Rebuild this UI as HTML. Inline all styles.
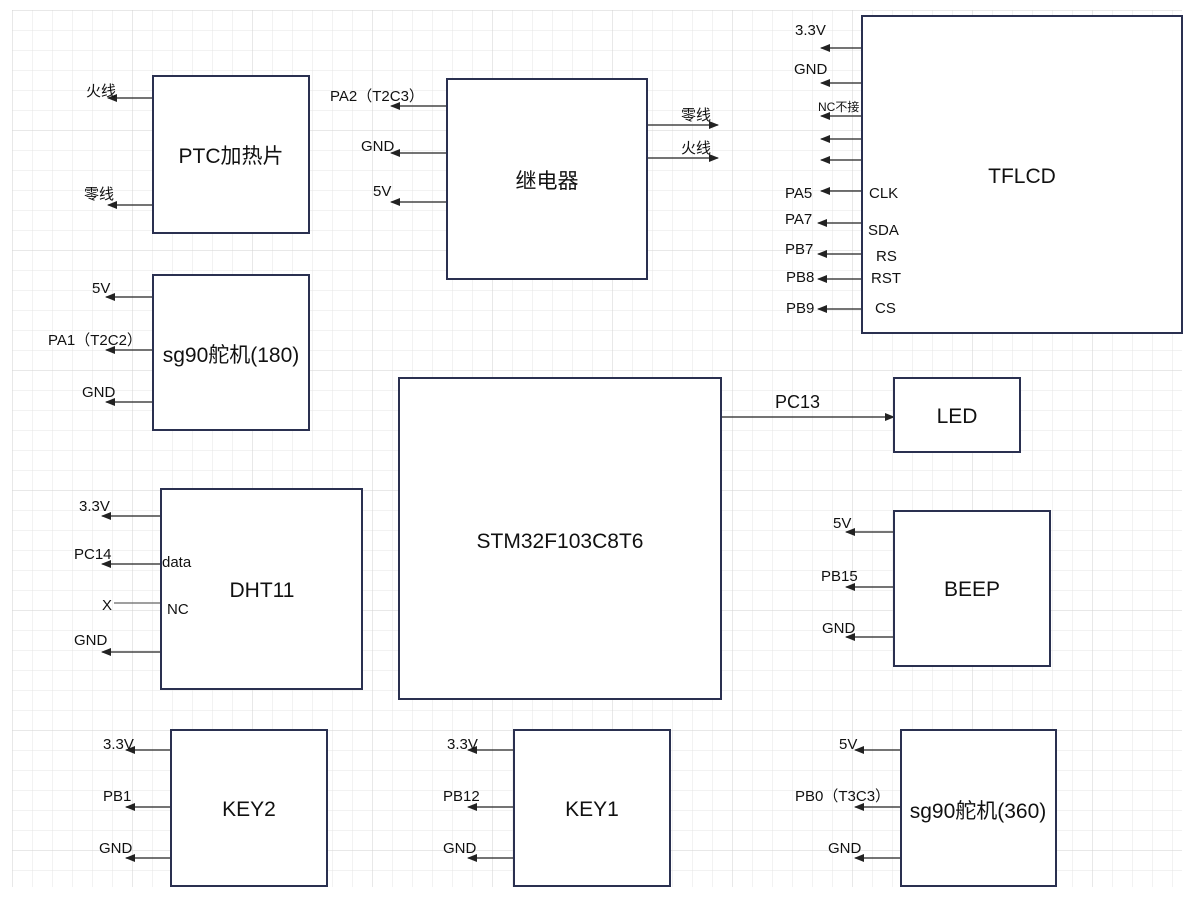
<!DOCTYPE html>
<html><head><meta charset="utf-8"><style>
html,body{margin:0;padding:0;background:#fff;}
svg{display:block;font-family:"Liberation Sans","Noto Sans CJK SC",sans-serif;}
</style></head><body>
<svg width="1185" height="898" viewBox="0 0 1185 898" xmlns="http://www.w3.org/2000/svg">
<defs>
<pattern id="g" x="12" y="10" width="20" height="20" patternUnits="userSpaceOnUse"><path d="M0 0H20M0 0V20" stroke="#e4e4e4" stroke-width="1" fill="none"/></pattern>
<pattern id="G" x="12" y="10" width="120" height="120" patternUnits="userSpaceOnUse"><path d="M0 0H120M0 0V120" stroke="#d2d2d2" stroke-width="1" fill="none"/></pattern>
<marker id="a" markerWidth="10" markerHeight="8" refX="9" refY="4" orient="auto" markerUnits="userSpaceOnUse"><path d="M0 0L10 4L0 8z" fill="#222"/></marker>
</defs>
<rect x="12" y="10" width="1170" height="877" fill="url(#g)"/>
<rect x="12" y="10" width="1170" height="877" fill="url(#G)"/>
<g stroke="#222" stroke-width="1.2" marker-end="url(#a)">
<line x1="153" y1="98" x2="108" y2="98"/><line x1="153" y1="205" x2="108" y2="205"/>
<line x1="447" y1="106" x2="391" y2="106"/><line x1="447" y1="153" x2="391" y2="153"/><line x1="447" y1="202" x2="391" y2="202"/>
<line x1="647" y1="125" x2="718" y2="125"/><line x1="647" y1="158" x2="718" y2="158"/>
<line x1="862" y1="48" x2="821" y2="48"/><line x1="862" y1="83" x2="821" y2="83"/><line x1="862" y1="116" x2="821" y2="116"/>
<line x1="862" y1="139" x2="821" y2="139"/><line x1="862" y1="160" x2="821" y2="160"/><line x1="862" y1="191" x2="821" y2="191"/>
<line x1="862" y1="223" x2="818" y2="223"/><line x1="862" y1="254" x2="818" y2="254"/><line x1="862" y1="279" x2="818" y2="279"/><line x1="862" y1="309" x2="818" y2="309"/>
<line x1="153" y1="297" x2="106" y2="297"/><line x1="153" y1="350" x2="106" y2="350"/><line x1="153" y1="402" x2="106" y2="402"/>
<line x1="721" y1="417" x2="894" y2="417"/>
<line x1="161" y1="516" x2="102" y2="516"/><line x1="161" y1="564" x2="102" y2="564"/><line x1="161" y1="652" x2="102" y2="652"/>
<line x1="894" y1="532" x2="846" y2="532"/><line x1="894" y1="587" x2="846" y2="587"/><line x1="894" y1="637" x2="846" y2="637"/>
<line x1="171" y1="750" x2="126" y2="750"/><line x1="171" y1="807" x2="126" y2="807"/><line x1="171" y1="858" x2="126" y2="858"/>
<line x1="514" y1="750" x2="468" y2="750"/><line x1="514" y1="807" x2="468" y2="807"/><line x1="514" y1="858" x2="468" y2="858"/>
<line x1="901" y1="750" x2="855" y2="750"/><line x1="901" y1="807" x2="855" y2="807"/><line x1="901" y1="858" x2="855" y2="858"/>
</g>
<line x1="161" y1="603" x2="114" y2="603" stroke="#666" stroke-width="1.2"/>
<g fill="#fff" stroke="#2a3050" stroke-width="2">
<rect x="153" y="76" width="156" height="157"/>
<rect x="447" y="79" width="200" height="200"/>
<rect x="862" y="16" width="320" height="317"/>
<rect x="153" y="275" width="156" height="155"/>
<rect x="399" y="378" width="322" height="321"/>
<rect x="894" y="378" width="126" height="74"/>
<rect x="161" y="489" width="201" height="200"/>
<rect x="894" y="511" width="156" height="155"/>
<rect x="171" y="730" width="156" height="156"/>
<rect x="514" y="730" width="156" height="156"/>
<rect x="901" y="730" width="155" height="156"/>
</g>
<g fill="#111" font-size="21" text-anchor="middle">
<text x="231" y="163">PTC加热片</text>
<text x="547" y="188">继电器</text>
<text x="1022" y="183">TFLCD</text>
<text x="231" y="362">sg90舵机(180)</text>
<text x="560" y="548">STM32F103C8T6</text>
<text x="957" y="423">LED</text>
<text x="262" y="597">DHT11</text>
<text x="972" y="596">BEEP</text>
<text x="249" y="816">KEY2</text>
<text x="592" y="816">KEY1</text>
<text x="978" y="818">sg90舵机(360)</text>
</g>
<g fill="#111" font-size="15">
<text x="86" y="96">火线</text><text x="84" y="199">零线</text>
<text x="330" y="101">PA2（T2C3）</text><text x="361" y="151">GND</text><text x="373" y="196">5V</text>
<text x="681" y="120">零线</text><text x="681" y="153">火线</text>
<text x="795" y="35">3.3V</text><text x="794" y="74">GND</text>
<text x="818" y="111" font-size="12">NC不接</text>
<text x="785" y="198">PA5</text><text x="785" y="224">PA7</text><text x="785" y="254">PB7</text><text x="786" y="282">PB8</text><text x="786" y="313">PB9</text>
<text x="869" y="198">CLK</text><text x="868" y="235">SDA</text><text x="876" y="261">RS</text><text x="871" y="283">RST</text><text x="875" y="313">CS</text>
<text x="92" y="293">5V</text><text x="48" y="345">PA1（T2C2）</text><text x="82" y="397">GND</text>
<text x="775" y="408" font-size="18">PC13</text>
<text x="79" y="511">3.3V</text><text x="74" y="559">PC14</text><text x="102" y="610">X</text><text x="74" y="645">GND</text>
<text x="162" y="567">data</text><text x="167" y="614">NC</text>
<text x="833" y="528">5V</text><text x="821" y="581">PB15</text><text x="822" y="633">GND</text>
<text x="103" y="749">3.3V</text><text x="103" y="801">PB1</text><text x="99" y="853">GND</text>
<text x="447" y="749">3.3V</text><text x="443" y="801">PB12</text><text x="443" y="853">GND</text>
<text x="839" y="749">5V</text><text x="795" y="801">PB0（T3C3）</text><text x="828" y="853">GND</text>
</g>
</svg>
</body></html>
